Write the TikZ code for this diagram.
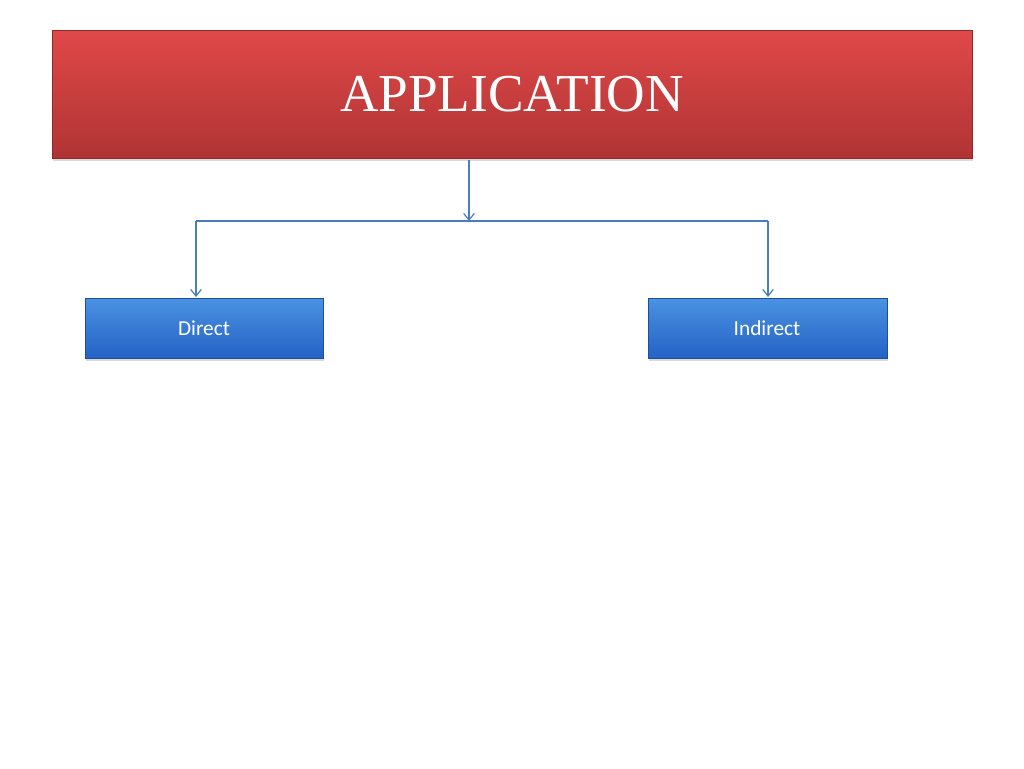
\documentclass[tikz,border=0pt]{standalone}
\usepackage{fontspec}
\setmainfont{Liberation Serif}
\newfontfamily\carl{Carlito}
\usetikzlibrary{shadows,arrows.meta}
\definecolor{redtop}{HTML}{E04848}
\definecolor{redbot}{HTML}{B03434}
\definecolor{bluetop}{HTML}{4A92E2}
\definecolor{bluebot}{HTML}{2462C4}
\definecolor{conn}{HTML}{4A7EBB}
\begin{document}
\begin{tikzpicture}[x=0.75pt,y=-0.75pt,
  redbox/.style={draw=redbot!80!black,line width=0.6pt,top color=redtop,bottom color=redbot,drop shadow={shadow xshift=1pt,shadow yshift=-2pt,opacity=0.3}},
  bluebox/.style={draw=bluebot!80!black,line width=0.6pt,top color=bluetop,bottom color=bluebot,drop shadow={shadow xshift=1pt,shadow yshift=-2pt,opacity=0.3}},
  link/.style={draw=conn,line width=0.9pt,-{Straight Barb[length=5pt,width=8pt]}}]
\useasboundingbox (0,0) rectangle (1024,768);
\path[redbox] (52,30) rectangle (972,158);
\node[text=white,font=\fontsize{40}{48}\selectfont] (app) at (512,94) {APPLICATION};
\path[bluebox] (85,298) rectangle (323,358);
\node[text=white,font=\carl\fontsize{16}{19}\selectfont] (d) at (204,328) {Direct};
\path[bluebox] (648,298) rectangle (887,358);
\node[text=white,font=\carl\fontsize{16}{19}\selectfont] (i) at (767,328) {Indirect};
\coordinate (a0) at (469,160);
\coordinate (a1) at (469,221);
\coordinate (l) at (196,221);
\coordinate (r) at (768,221);
\coordinate (dt) at (196,297);
\coordinate (it) at (768,297);
\draw[link] (a0) -- (a1);
\draw[draw=conn,line width=0.9pt] (l) -- (r);
\draw[link] (l) -- (dt);
\draw[link] (r) -- (it);
\end{tikzpicture}
\end{document}
